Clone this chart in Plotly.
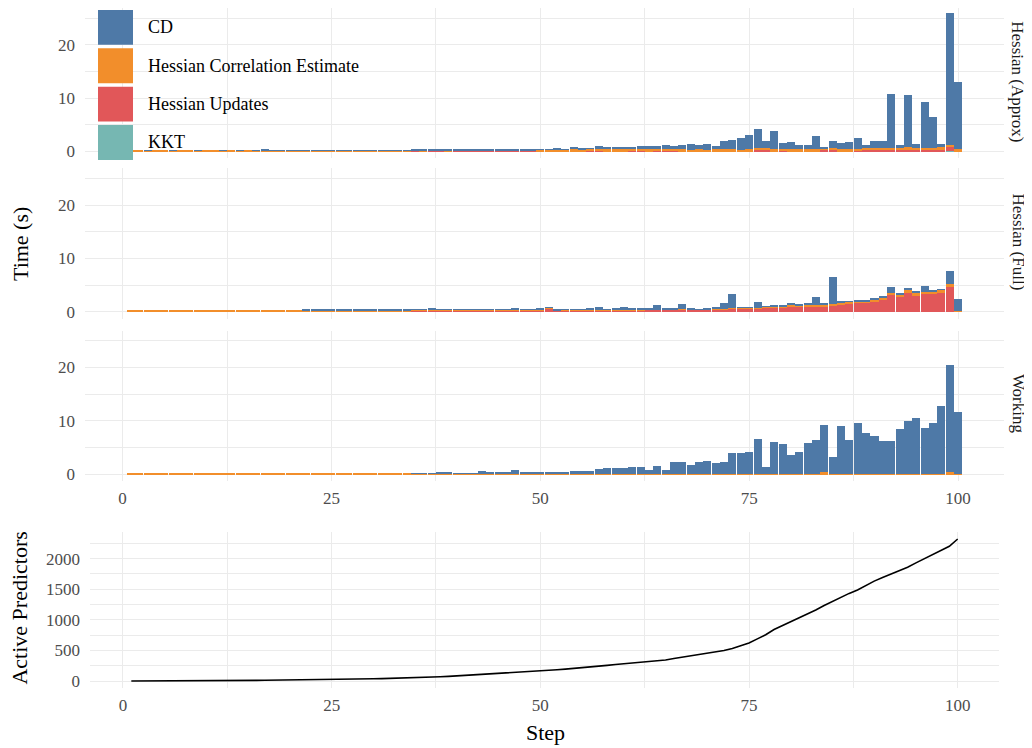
import plotly.graph_objects as go

steps = list(range(1, 101))

# ---------------- Hessian (Approx) ----------------
cd_approx = [
    0.00, 0.00, 0.01, 0.00, 0.00, 0.01, 0.00, 0.00, 0.01, 0.00,
    0.00, 0.01, 0.00, 0.01, 0.00, 0.01, 0.20, 0.01, 0.12, 0.12,
    0.13, 0.12, 0.12, 0.13, 0.12, 0.12, 0.13, 0.12, 0.12, 0.13,
    0.12, 0.12, 0.13, 0.12, 0.10, 0.12, 0.10, 0.12, 0.10, 0.20,
    0.12, 0.14, 0.12, 0.16, 0.15, 0.16, 0.15, 0.16, 0.15, 0.05,
    0.05, 0.30, 0.05, 0.45, 0.30, 0.10, 0.50, 0.45, 0.45, 0.45,
    0.40, 0.60, 0.65, 0.50, 0.70, 0.50, 0.85, 1.05, 0.85, 1.05,
    0.65, 1.60, 1.80, 2.20, 2.70, 3.60, 1.30, 3.45, 1.10, 1.35,
    0.85, 0.85, 2.50, 0.15, 1.30, 1.15, 1.35, 2.00, 0.55, 1.30,
    1.30, 10.20, 0.55, 9.80, 0.75, 8.70, 5.80, 0.60, 24.80, 12.60]
hce_approx = [
    0.08, 0.08, 0.07, 0.08, 0.08, 0.08, 0.07, 0.08, 0.08, 0.08,
    0.08, 0.08, 0.08, 0.07, 0.08, 0.08, 0.08, 0.08, 0.08, 0.08,
    0.08, 0.08, 0.08, 0.08, 0.08, 0.08, 0.08, 0.08, 0.08, 0.08,
    0.08, 0.08, 0.08, 0.08, 0.12, 0.12, 0.14, 0.12, 0.12, 0.14,
    0.12, 0.14, 0.12, 0.14, 0.14, 0.14, 0.14, 0.15, 0.15, 0.30,
    0.30, 0.30, 0.30, 0.30, 0.30, 0.28, 0.28, 0.30, 0.30, 0.30,
    0.30, 0.30, 0.30, 0.28, 0.28, 0.28, 0.30, 0.30, 0.30, 0.30,
    0.30, 0.30, 0.30, 0.30, 0.30, 0.30, 0.30, 0.30, 0.35, 0.35,
    0.35, 0.35, 0.35, 0.30, 0.30, 0.35, 0.35, 0.45, 0.45, 0.45,
    0.45, 0.45, 0.45, 0.45, 0.45, 0.45, 0.45, 0.45, 0.45, 0.35]
hu_approx = [
    0.00, 0.00, 0.00, 0.00, 0.00, 0.00, 0.00, 0.00, 0.00, 0.00,
    0.00, 0.00, 0.00, 0.00, 0.00, 0.00, 0.00, 0.00, 0.00, 0.00,
    0.00, 0.00, 0.00, 0.00, 0.00, 0.00, 0.00, 0.00, 0.00, 0.00,
    0.00, 0.00, 0.00, 0.00, 0.08, 0.06, 0.10, 0.08, 0.06, 0.08,
    0.10, 0.08, 0.10, 0.08, 0.10, 0.08, 0.10, 0.08, 0.10, 0.03,
    0.02, 0.02, 0.02, 0.05, 0.04, 0.20, 0.22, 0.05, 0.05, 0.05,
    0.10, 0.10, 0.05, 0.20, 0.20, 0.20, 0.05, 0.04, 0.05, 0.04,
    0.05, 0.05, 0.05, 0.03, 0.04, 0.28, 0.30, 0.05, 0.06, 0.05,
    0.05, 0.05, 0.05, 0.30, 0.30, 0.05, 0.05, 0.05, 0.15, 0.15,
    0.15, 0.15, 0.15, 0.30, 0.15, 0.15, 0.15, 0.30, 0.70, 0.05]
kkt_approx = [
    0.02, 0.02, 0.02, 0.02, 0.02, 0.02, 0.02, 0.02, 0.02, 0.02,
    0.02, 0.02, 0.02, 0.02, 0.02, 0.02, 0.02, 0.02, 0.02, 0.02,
    0.02, 0.02, 0.02, 0.02, 0.02, 0.02, 0.02, 0.02, 0.02, 0.02,
    0.02, 0.02, 0.02, 0.02, 0.02, 0.02, 0.02, 0.02, 0.02, 0.02,
    0.02, 0.02, 0.02, 0.02, 0.02, 0.02, 0.02, 0.02, 0.02, 0.02,
    0.02, 0.02, 0.02, 0.02, 0.02, 0.02, 0.02, 0.02, 0.02, 0.02,
    0.02, 0.02, 0.02, 0.02, 0.02, 0.02, 0.02, 0.02, 0.02, 0.02,
    0.03, 0.03, 0.03, 0.03, 0.03, 0.03, 0.03, 0.03, 0.03, 0.03,
    0.03, 0.03, 0.03, 0.03, 0.03, 0.03, 0.03, 0.04, 0.04, 0.04,
    0.04, 0.04, 0.04, 0.04, 0.04, 0.04, 0.04, 0.04, 0.05, 0.02]

# ---------------- Hessian (Full) ----------------
cd_full = [
    0.00, 0.00, 0.00, 0.00, 0.00, 0.00, 0.00, 0.00, 0.00, 0.00,
    0.00, 0.00, 0.00, 0.00, 0.00, 0.00, 0.00, 0.00, 0.00, 0.00,
    0.00, 0.15, 0.15, 0.15, 0.15, 0.15, 0.15, 0.15, 0.15, 0.15,
    0.15, 0.15, 0.15, 0.15, 0.05, 0.05, 0.20, 0.05, 0.05, 0.05,
    0.05, 0.05, 0.05, 0.15, 0.05, 0.05, 0.30, 0.05, 0.10, 0.25,
    0.18, 0.13, 0.15, 0.15, 0.15, 0.34, 0.53, 0.15, 0.34, 0.53,
    0.34, 0.34, 0.02, 0.81, 0.19, 0.19, 0.90, 0.19, 0.05, 0.19,
    0.38, 1.10, 2.55, 0.13, 0.13, 1.08, 0.17, 0.36, 0.02, 0.40,
    0.20, 0.40, 1.45, 0.30, 5.10, 0.18, 0.02, 0.22, 0.22, 0.21,
    0.23, 1.05, 0.25, 0.26, 0.40, 1.04, 0.30, 0.02, 2.50, 2.26]
hce_full = [
    0.10, 0.10, 0.10, 0.10, 0.10, 0.10, 0.10, 0.10, 0.10, 0.10,
    0.10, 0.10, 0.10, 0.10, 0.10, 0.10, 0.10, 0.10, 0.10, 0.10,
    0.10, 0.10, 0.10, 0.10, 0.10, 0.10, 0.10, 0.10, 0.10, 0.10,
    0.10, 0.10, 0.10, 0.10, 0.15, 0.15, 0.15, 0.15, 0.15, 0.15,
    0.15, 0.15, 0.15, 0.15, 0.15, 0.15, 0.15, 0.15, 0.15, 0.15,
    0.15, 0.15, 0.20, 0.20, 0.20, 0.20, 0.20, 0.20, 0.20, 0.20,
    0.20, 0.20, 0.10, 0.10, 0.10, 0.10, 0.15, 0.10, 0.10, 0.15,
    0.15, 0.15, 0.15, 0.15, 0.15, 0.15, 0.15, 0.15, 0.27, 0.30,
    0.30, 0.30, 0.30, 0.30, 0.30, 0.25, 0.33, 0.35, 0.35, 0.40,
    0.40, 0.54, 0.55, 0.60, 0.60, 0.55, 0.55, 0.60, 0.55, 0.08]
hu_full = [
    0.00, 0.00, 0.00, 0.00, 0.00, 0.00, 0.00, 0.00, 0.00, 0.00,
    0.00, 0.00, 0.00, 0.00, 0.00, 0.00, 0.00, 0.00, 0.00, 0.00,
    0.00, 0.00, 0.00, 0.00, 0.00, 0.00, 0.00, 0.00, 0.00, 0.00,
    0.00, 0.00, 0.00, 0.00, 0.12, 0.12, 0.12, 0.12, 0.12, 0.12,
    0.12, 0.12, 0.12, 0.12, 0.12, 0.12, 0.12, 0.12, 0.12, 0.12,
    0.45, 0.05, 0.05, 0.05, 0.05, 0.05, 0.05, 0.05, 0.05, 0.05,
    0.05, 0.05, 0.30, 0.25, 0.30, 0.30, 0.30, 0.30, 0.25, 0.25,
    0.25, 0.30, 0.55, 0.50, 0.50, 0.50, 0.65, 0.65, 0.70, 0.85,
    0.85, 0.85, 0.95, 0.95, 1.15, 1.30, 1.40, 1.55, 1.55, 1.70,
    2.25, 3.01, 2.65, 3.55, 2.85, 3.20, 3.20, 3.45, 4.60, 0.00]
kkt_full = [
    0.03, 0.03, 0.03, 0.03, 0.03, 0.03, 0.03, 0.03, 0.03, 0.03,
    0.03, 0.03, 0.03, 0.03, 0.03, 0.03, 0.03, 0.03, 0.03, 0.03,
    0.03, 0.03, 0.03, 0.03, 0.03, 0.03, 0.03, 0.03, 0.03, 0.03,
    0.03, 0.03, 0.03, 0.03, 0.03, 0.03, 0.03, 0.03, 0.03, 0.03,
    0.03, 0.03, 0.03, 0.03, 0.03, 0.03, 0.03, 0.03, 0.03, 0.03,
    0.05, 0.05, 0.05, 0.05, 0.05, 0.05, 0.05, 0.05, 0.05, 0.05,
    0.05, 0.05, 0.05, 0.05, 0.05, 0.05, 0.05, 0.05, 0.05, 0.05,
    0.05, 0.05, 0.05, 0.05, 0.05, 0.05, 0.05, 0.05, 0.05, 0.05,
    0.05, 0.05, 0.05, 0.05, 0.05, 0.05, 0.05, 0.05, 0.05, 0.05,
    0.05, 0.05, 0.05, 0.05, 0.05, 0.05, 0.05, 0.05, 0.05, 0.02]

# ---------------- Working ----------------
cd_working = [
    0.00, 0.00, 0.00, 0.00, 0.00, 0.00, 0.00, 0.00, 0.00, 0.00,
    0.00, 0.00, 0.00, 0.00, 0.00, 0.00, 0.00, 0.00, 0.00, 0.00,
    0.00, 0.00, 0.00, 0.00, 0.00, 0.00, 0.00, 0.00, 0.00, 0.00,
    0.00, 0.00, 0.00, 0.00, 0.13, 0.13, 0.13, 0.33, 0.33, 0.13,
    0.13, 0.13, 0.52, 0.33, 0.33, 0.33, 0.71, 0.33, 0.33, 0.33,
    0.33, 0.33, 0.33, 0.52, 0.52, 0.52, 0.90, 1.09, 1.09, 1.09,
    1.28, 1.28, 0.71, 1.48, 0.71, 2.24, 2.24, 1.66, 2.24, 2.43,
    2.05, 2.24, 3.78, 3.78, 3.98, 6.38, 1.28, 5.98, 5.58, 3.38,
    3.98, 5.68, 6.28, 8.90, 3.18, 8.93, 6.28, 9.48, 7.58, 6.98,
    6.08, 6.08, 8.38, 9.88, 10.48, 8.58, 9.48, 12.58, 20.15, 11.58]
hce_working = [
    0.10, 0.10, 0.10, 0.10, 0.10, 0.10, 0.10, 0.10, 0.10, 0.10,
    0.10, 0.10, 0.10, 0.10, 0.10, 0.10, 0.10, 0.10, 0.10, 0.10,
    0.10, 0.10, 0.10, 0.10, 0.10, 0.10, 0.10, 0.10, 0.10, 0.10,
    0.10, 0.10, 0.10, 0.10, 0.10, 0.10, 0.10, 0.10, 0.10, 0.10,
    0.10, 0.10, 0.10, 0.10, 0.10, 0.10, 0.10, 0.10, 0.10, 0.10,
    0.10, 0.10, 0.10, 0.10, 0.10, 0.10, 0.10, 0.10, 0.10, 0.10,
    0.10, 0.10, 0.10, 0.10, 0.10, 0.10, 0.10, 0.10, 0.10, 0.10,
    0.10, 0.10, 0.10, 0.10, 0.10, 0.10, 0.10, 0.10, 0.10, 0.10,
    0.10, 0.10, 0.10, 0.30, 0.10, 0.10, 0.10, 0.10, 0.10, 0.10,
    0.10, 0.10, 0.10, 0.10, 0.10, 0.10, 0.10, 0.10, 0.30, 0.10]
hu_working = [
    0.00, 0.00, 0.00, 0.00, 0.00, 0.00, 0.00, 0.00, 0.00, 0.00,
    0.00, 0.00, 0.00, 0.00, 0.00, 0.00, 0.00, 0.00, 0.00, 0.00,
    0.00, 0.00, 0.00, 0.00, 0.00, 0.00, 0.00, 0.00, 0.00, 0.00,
    0.00, 0.00, 0.00, 0.00, 0.00, 0.00, 0.00, 0.00, 0.00, 0.00,
    0.00, 0.00, 0.00, 0.00, 0.00, 0.00, 0.00, 0.00, 0.00, 0.00,
    0.00, 0.00, 0.00, 0.00, 0.00, 0.00, 0.00, 0.00, 0.00, 0.00,
    0.00, 0.00, 0.00, 0.00, 0.00, 0.00, 0.00, 0.00, 0.00, 0.00,
    0.00, 0.00, 0.00, 0.00, 0.00, 0.00, 0.00, 0.00, 0.00, 0.00,
    0.00, 0.00, 0.00, 0.00, 0.00, 0.00, 0.00, 0.00, 0.00, 0.00,
    0.00, 0.00, 0.00, 0.00, 0.00, 0.00, 0.00, 0.00, 0.00, 0.00]
kkt_working = [
    0.02, 0.02, 0.02, 0.02, 0.02, 0.02, 0.02, 0.02, 0.02, 0.02,
    0.02, 0.02, 0.02, 0.02, 0.02, 0.02, 0.02, 0.02, 0.02, 0.02,
    0.02, 0.02, 0.02, 0.02, 0.02, 0.02, 0.02, 0.02, 0.02, 0.02,
    0.02, 0.02, 0.02, 0.02, 0.02, 0.02, 0.02, 0.02, 0.02, 0.02,
    0.02, 0.02, 0.02, 0.02, 0.02, 0.02, 0.02, 0.02, 0.02, 0.02,
    0.02, 0.02, 0.02, 0.02, 0.02, 0.02, 0.02, 0.02, 0.02, 0.02,
    0.02, 0.02, 0.02, 0.02, 0.02, 0.02, 0.02, 0.02, 0.02, 0.02,
    0.02, 0.02, 0.02, 0.02, 0.02, 0.02, 0.02, 0.02, 0.02, 0.02,
    0.02, 0.02, 0.02, 0.05, 0.02, 0.02, 0.02, 0.02, 0.02, 0.02,
    0.02, 0.02, 0.02, 0.02, 0.02, 0.02, 0.02, 0.02, 0.05, 0.02]

# ---------------- Active predictors ----------------
active_predictors = [
    1, 1, 1, 2, 2, 2, 2, 3, 3, 4,
    5, 7, 8, 9, 10, 12, 14, 15, 16, 18,
    20, 22, 24, 25, 27, 29, 31, 33, 35, 38,
    41, 44, 48, 53, 58, 62, 66, 71, 78, 86,
    92, 98, 104, 111, 119, 127, 136, 145, 156, 168,
    176, 186, 196, 206, 216, 229, 243, 257, 270, 282,
    292, 302, 314, 324, 346, 368, 389, 410, 432, 454,
    476, 500, 533, 573, 622, 690, 757, 843, 905, 962,
    1025, 1086, 1160, 1233, 1303, 1365, 1432, 1486, 1560, 1632,
    1690, 1746, 1800, 1859, 1930, 2000, 2059, 2130, 2200, 2320]

facets = ["Hessian (Approx)", "Hessian (Full)", "Working"]
component_names = ["KKT", "Hessian Updates", "Hessian Correlation Estimate", "CD"]
component_colors = {"CD": "#4E79A7", "Hessian Correlation Estimate": "#F28E2B",
                    "Hessian Updates": "#E15759", "KKT": "#76B7B2"}
facet_data = {
    "Hessian (Approx)": {"CD": cd_approx, "Hessian Correlation Estimate": hce_approx,
                         "Hessian Updates": hu_approx, "KKT": kkt_approx},
    "Hessian (Full)": {"CD": cd_full, "Hessian Correlation Estimate": hce_full,
                       "Hessian Updates": hu_full, "KKT": kkt_full},
    "Working": {"CD": cd_working, "Hessian Correlation Estimate": hce_working,
                "Hessian Updates": hu_working, "KKT": kkt_working},
}
legend_order = ["CD", "Hessian Correlation Estimate", "Hessian Updates", "KKT"]
time_ticks = [0, 10, 20]
step_ticks = [0, 25, 50, 75, 100]
pred_ticks = [0, 500, 1000, 1500, 2000]

# The page body has an 8px default margin, so the figure is offset by 8px.
OFF = 8
W, H = 1024, 740
def px(x):
    return (x - OFF) / W
def py(y):
    return min(1.0, max(0.0, 1 - (y - OFF) / H))

FONT = "Liberation Serif, Times New Roman, serif"
TICKC = "#4D4D4D"
GRID = "#EBEBEB"

fig = go.Figure()
axis_suffix = ["", "2", "3"]
for i, facet in enumerate(facets):
    s = axis_suffix[i]
    for comp in component_names:
        fig.add_trace(go.Bar(
            x=steps, y=facet_data[facet][comp], name=comp,
            marker=dict(color=component_colors[comp], line=dict(width=0)),
            xaxis="x" + s, yaxis="y" + s, showlegend=False,
            hovertemplate=facet + "<br>" + comp + "<br>Step %{x}: %{y}s<extra></extra>"))

fig.add_trace(go.Scatter(x=steps, y=active_predictors, mode="lines",
                         line=dict(color="black", width=1.6),
                         xaxis="x4", yaxis="y4", showlegend=False))

def xax(domain, rng, labels):
    return dict(domain=domain, range=rng, tickvals=step_ticks, showticklabels=labels,
                showgrid=True, gridcolor=GRID, gridwidth=1.3, zeroline=False,
                showline=False, ticks="", ticklabelstandoff=5,
                tickfont=dict(family=FONT, size=17, color=TICKC),
                minor=dict(showgrid=True, gridcolor=GRID, gridwidth=0.6, dtick=12.5, tick0=0))

def yax(domain, rng, tv, dminor):
    return dict(domain=domain, range=rng, tickvals=tv, showgrid=True, gridcolor=GRID,
                gridwidth=1.3, zeroline=False, showline=False, ticks="",
                ticklabelstandoff=9, tickfont=dict(family=FONT, size=17, color=TICKC),
                minor=dict(showgrid=True, gridcolor=GRID, gridwidth=0.6, dtick=dminor, tick0=0))

xdom = [px(85), px(1004)]
xr = [-4.5, 105.5]
panel_px = [(8, 159), (169, 320), (332, 483)]
yr = [-1.3, 26.9]
layout = dict(
    width=W, height=H, margin=dict(l=0, r=0, t=0, b=0),
    paper_bgcolor="white", plot_bgcolor="white", barmode="stack", bargap=0.04,
    font=dict(family=FONT, color="black"),
)
for i, (top, bot) in enumerate(panel_px):
    s = axis_suffix[i]
    layout["xaxis" + s] = xax(xdom, xr, i == 2)
    layout["xaxis" + s]["anchor"] = "y" + s
    layout["yaxis" + s] = yax([py(bot), py(top)], yr, time_ticks, 5)
    layout["yaxis" + s]["anchor"] = "x" + s
layout["xaxis4"] = xax([px(90), px(999)], [-3.95, 104.95], True)
layout["xaxis4"]["anchor"] = "y4"
layout["yaxis4"] = yax([py(691), py(534)], [-116, 2436], pred_ticks, 250)
layout["yaxis4"]["anchor"] = "x4"
fig.update_layout(**layout)

def ann(text, x, y, size, angle=0, color="black", xanchor="center"):
    return dict(text=text, x=px(x), y=py(y), xref="paper", yref="paper", showarrow=False,
                textangle=angle, xanchor=xanchor, yanchor="middle",
                font=dict(family=FONT, size=size, color=color))

annotations = []
# facet strip labels
for facet, (top, bot) in zip(facets, panel_px):
    annotations.append(ann(facet, 1018, (top + bot) / 2 - 2, 17, angle=90, color="#1A1A1A"))
annotations.append(ann("Time (s)", 20, 245, 22, angle=-90))
annotations.append(ann("Active Predictors", 20, 611, 22, angle=-90))
annotations.append(ann("Step", 545, 735, 22))

# legend keys drawn inside the top panel
shapes = []
key_tops = [10, 48.5, 87, 125.5]
for comp, kt in zip(legend_order, key_tops):
    shapes.append(dict(type="rect", xref="paper", yref="paper", x0=px(98), x1=px(133),
                       y0=py(kt + 35), y1=py(kt), fillcolor=component_colors[comp],
                       line=dict(width=0), layer="above"))
    annotations.append(ann(comp, 146, kt + 17.5, 18, xanchor="left"))
fig.update_layout(annotations=annotations, shapes=shapes)

fig.write_html("out.html")
